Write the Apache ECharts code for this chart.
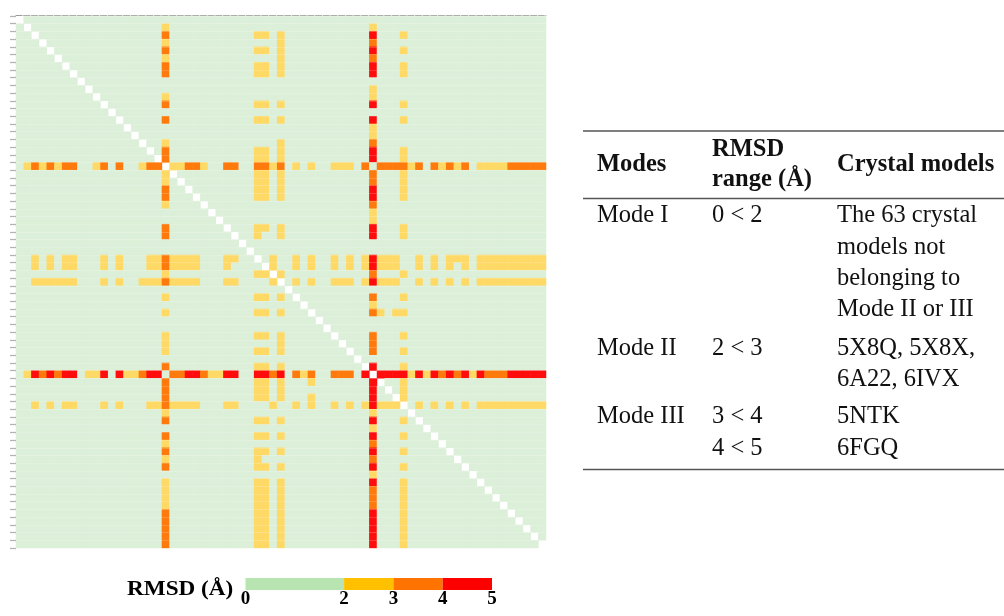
<!DOCTYPE html>
<html>
<head>
<meta charset="utf-8">
<script src="https://cdn.jsdelivr.net/npm/echarts@6/dist/echarts.min.js"></script>
<style>
  html, body { margin: 0; padding: 0; background: #ffffff; }
  #chart { width: 1004px; height: 616px; }
</style>
</head>
<body>
<div id="chart"></div>
<script>
// Pairwise RMSD between the 69 crystal models (alphabetical PDB order).
// Each character is the whole-angstrom part of one RMSD value:
// 1 = below 2 A, 2 = 2-3 A, 3 = 3-4 A, 4 = 4-5 A, '-' = the model against itself.
// Only the models that depart from Mode I somewhere are listed; every other pair is below 2 A.
const MODEL_COUNT = 69;

const row5NTK = "1232323311" + "231311233-" + "2233211331" + "1332312121" + "1222131333" + "3231323231" + "222233333";
const row5X8Q = "1121212211" + "1212111223" + "2222111221" + "1-12112121" + "1212124222" + "1121212221" + "222222222";
const row5X8X = "1121212211" + "1212111223" + "2222111211" + "11-2112121" + "1212124222" + "1121212121" + "222222222";
const row33   = "1111111111" + "1111111112" + "1111111111" + "122-211111" + "1111113111" + "2111111111" + "111111111";
const row6A22 = "1122222211" + "1212112223" + "2222111221" + "1112-12121" + "1222124222" + "1121212121" + "222222222";
const row38   = "1111111111" + "1111111112" + "1111111111" + "12212111-1" + "1111113212" + "2111111111" + "111111111";
const row6FGQ = "1243434412" + "2414223441" + "3344322441" + "1443413231" + "133314-444" + "4242434342" + "433344444";
const row6IVX = "1121212211" + "1212111223" + "2222111221" + "1112112121" + "1212124222" + "-121212121" + "222222222";

// Positions of those models along both axes
const deviatingIndex = [19, 31, 32, 33, 34, 38, 46, 50];
const deviatingRows  = [row5NTK, row5X8Q, row5X8X, row33, row6A22, row38, row6FGQ, row6IVX];

// Colour scale bins (A)
const binStops = [0, 2, 3, 4, 5];
const cellColors = ['#dcefd8', '#ffd966', '#ff7a0c', '#ff0c0c'];
const barColors  = ['#b8e4b2', '#ffc000', '#ff7300', '#ff0000'];

// Summary table
const tableHeaders = [['Modes'], ['RMSD', 'range (Å)'], ['Crystal models']];
const modeNames = ['Mode I', 'Mode II', 'Mode III'];
const modeRanges = [['0 < 2'], ['2 < 3'], ['3 < 4', '4 < 5']];
const modeModels = [
  ['The 63 crystal', 'models not', 'belonging to', 'Mode II or III'],
  ['5X8Q, 5X8X,', '6A22, 6IVX'],
  ['5NTK', '6FGQ']
];

// ---- build the symmetric matrix ----
const categories = [];
for (let i = 0; i < MODEL_COUNT; i++) categories.push(String(i + 1));

const matrix = [];
for (let i = 0; i < MODEL_COUNT; i++) {
  const r = new Array(MODEL_COUNT).fill('1');
  r[i] = '-';
  matrix.push(r);
}
deviatingIndex.forEach((k, n) => {
  const s = deviatingRows[n];
  for (let j = 0; j < MODEL_COUNT; j++) {
    matrix[k][j] = s[j];
    matrix[j][k] = s[j];
  }
});

const heatData = [];
for (let i = 0; i < MODEL_COUNT; i++) {
  for (let j = 0; j < MODEL_COUNT; j++) {
    const c = matrix[i][j];
    if (c === '-') continue;
    heatData.push([j, i, Number(c) + 0.5]);
  }
}

// ---- chart ----
const serif = "'Liberation Serif', 'Times New Roman', serif";
const chart = echarts.init(document.getElementById('chart'));

const graphics = [];
const tableLeft = 583, tableRight = 1004;
[131, 198.5, 469.5].forEach(y => {
  graphics.push({
    type: 'line', silent: true,
    shape: { x1: tableLeft, y1: y, x2: tableRight, y2: y },
    style: { stroke: '#555555', lineWidth: 1.5 }
  });
});
const colX = [597, 712, 837];
function addText(txt, x, y, bold) {
  graphics.push({
    type: 'text', silent: true, x: x, y: y,
    style: {
      text: txt,
      font: (bold ? 'bold ' : '') + '24.5px ' + serif,
      fill: '#111111',
      align: 'left', verticalAlign: 'middle',
      textAlign: 'left', textVerticalAlign: 'middle'
    }
  });
}
// header
addText(tableHeaders[0][0], colX[0], 165, true);
addText(tableHeaders[1][0], colX[1], 150, true);
addText(tableHeaders[1][1], colX[1], 180, true);
addText(tableHeaders[2][0], colX[2], 165, true);
// body
const blockTop = [216, 348.5, 417];
const lineStep = 31.3;
modeNames.forEach((m, k) => {
  addText(m, colX[0], blockTop[k], false);
  modeRanges[k].forEach((t, i) => addText(t, colX[1], blockTop[k] + i * lineStep, false));
  modeModels[k].forEach((t, i) => addText(t, colX[2], blockTop[k] + i * lineStep, false));
});
// colour bar title
graphics.push({
  type: 'text', silent: true, x: 127, y: 590, scaleX: 1.16,
  style: {
    text: 'RMSD (Å)', font: 'bold 20px ' + serif, fill: '#000000',
    align: 'left', verticalAlign: 'middle', textAlign: 'left', textVerticalAlign: 'middle'
  }
});

const barSeries = [];
for (let b = 0; b < 4; b++) {
  barSeries.push({
    type: 'bar', xAxisIndex: 1, yAxisIndex: 1, stack: 'scale',
    barWidth: '100%', silent: true,
    itemStyle: { color: barColors[b] },
    data: [binStops[b + 1] - binStops[b]]
  });
}

chart.setOption({
  animation: false,
  backgroundColor: '#ffffff',
  grid: [
    { left: 16, top: 16, width: 530, height: 532 },
    { left: 245.5, top: 578, width: 246.5, height: 12 }
  ],
  xAxis: [
    {
      type: 'category', data: categories, position: 'top', gridIndex: 0,
      axisLine: { show: true, onZero: false, lineStyle: { color: '#9a9a9a', width: 1.2, type: [6, 1.68] } },
      axisTick: { show: false }, axisLabel: { show: false }, splitLine: { show: false },
      offset: 1
    },
    {
      type: 'value', gridIndex: 1, min: 0, max: 5, interval: 1,
      axisLine: { show: false }, axisTick: { show: false }, splitLine: { show: false },
      axisLabel: {
        margin: 0,
        fontFamily: serif, fontWeight: 'bold', fontSize: 19, color: '#000000',
        formatter: v => (binStops.indexOf(v) >= 0 ? String(v) : '')
      }
    }
  ],
  yAxis: [
    {
      type: 'category', data: categories, inverse: true, gridIndex: 0, z: 3,
      axisLine: { show: false },
      axisTick: { show: true, length: 6, interval: 0, lineStyle: { color: '#b4b4b4', width: 1.3 } },
      axisLabel: { show: false },
      splitLine: { show: true, interval: 0, lineStyle: { color: 'rgba(255,255,255,0.18)', width: 1 } }
    },
    { type: 'category', data: ['RMSD'], gridIndex: 1, show: false }
  ],
  visualMap: {
    type: 'piecewise', show: false, seriesIndex: 0, dimension: 2,
    pieces: [
      { gte: binStops[0], lt: binStops[1], color: cellColors[0] },
      { gte: binStops[1], lt: binStops[2], color: cellColors[1] },
      { gte: binStops[2], lt: binStops[3], color: cellColors[2] },
      { gte: binStops[3], lte: binStops[4], color: cellColors[3] }
    ]
  },
  series: [
    {
      type: 'heatmap', xAxisIndex: 0, yAxisIndex: 0, data: heatData,
      silent: true, emphasis: { disabled: true }, progressive: 0
    }
  ].concat(barSeries),
  graphic: graphics
});
</script>
</body>
</html>
